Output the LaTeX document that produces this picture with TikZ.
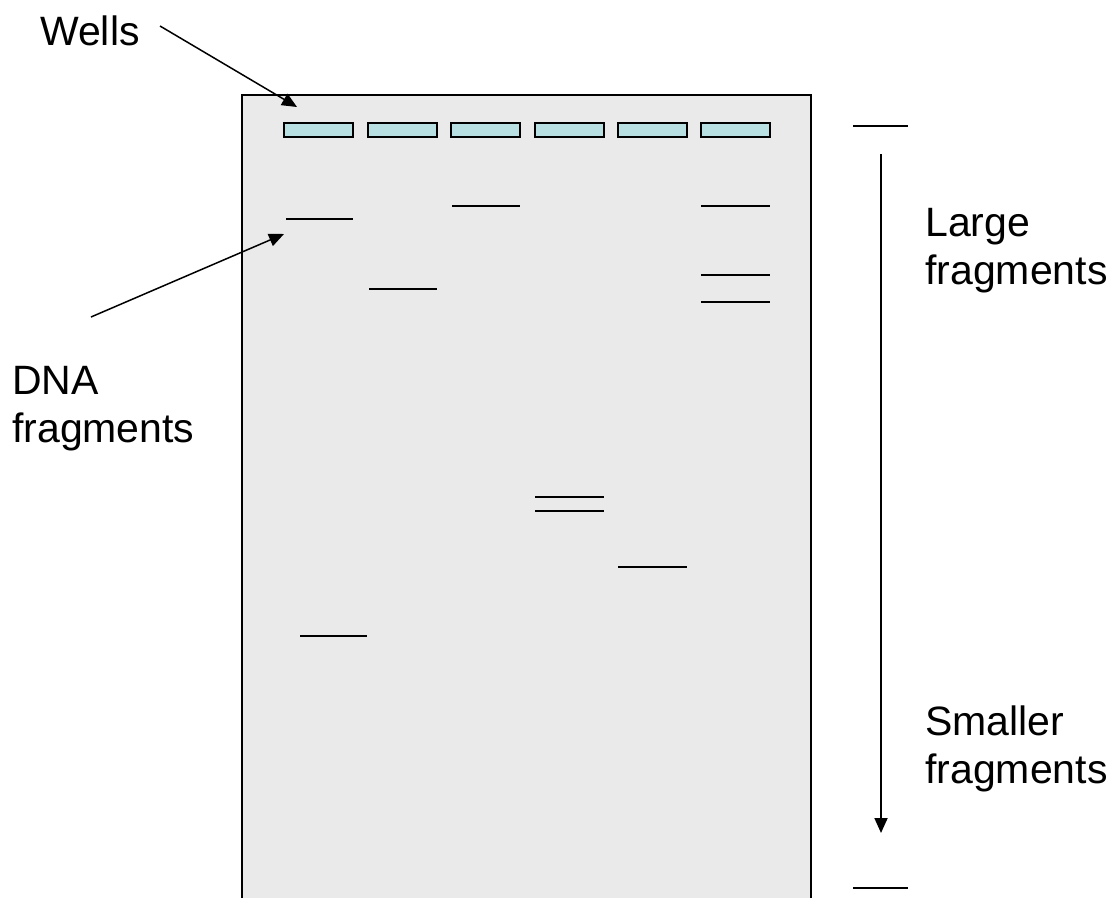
\documentclass[tikz,border=0pt]{standalone}
\usepackage{fontspec}
\setmainfont{Liberation Sans}
\usetikzlibrary{arrows.meta}
\definecolor{gelgray}{HTML}{EAEAEA}
\definecolor{wellcyan}{HTML}{B8E0E3}
\begin{document}
\begin{tikzpicture}[x=1pt,y=-1pt,
  gel/.style={draw=black,line width=1.5pt,fill=gelgray},
  well/.style={draw=black,line width=1.8pt,fill=wellcyan},
  band/.style={draw=black,line width=2pt},
  marker/.style={draw=black,line width=1.8pt},
  pointer/.style={draw=black,line width=1.5pt,-{Triangle[length=15pt,width=13pt]}},
  lbl/.style={font=\fontsize{41}{48}\selectfont,align=left,anchor=north west,inner sep=0pt}]
\useasboundingbox (0,0) rectangle (1110,897);
% gel
\path[gel] (242,95) -- (242,900) -- (811,900) -- (811,95) -- cycle;
% wells
\foreach \x [count=\i] in {284,368,451,535,618,701}{
  \path[well] (\x,123) rectangle ++(69,14);
}
\coordinate (w1) at (297,107);
% bands
\coordinate (b1s) at (286,219); \coordinate (b1e) at (353,219);
\draw[band] (b1s) -- (b1e);
\draw[band] (369,289) -- (437,289);
\draw[band] (452,206) -- (520,206);
\draw[band] (701,206) -- (770,206);
\draw[band] (701,275) -- (770,275);
\draw[band] (701,302) -- (770,302);
\draw[band] (535,497) -- (604,497);
\draw[band] (535,511) -- (604,511);
\draw[band] (618,567) -- (687,567);
\draw[band] (300,636) -- (367,636);
% labels
\node[lbl] (wells) at (40,16) {Wells};
\node[lbl] (dna) at (12,366) {DNA\\fragments};
\node[lbl] (large) at (925,208) {Large\\fragments};
\node[lbl] (small) at (925,706) {Smaller\\fragments};
% pointers
\coordinate (wellsTail) at (160,26);
\coordinate (dnaTail) at (91,317);
\coordinate (dnaTip) at (284,234);
\draw[pointer] (wellsTail) -- (w1);
\draw[pointer] (dnaTail) -- (dnaTip);
% size scale
\coordinate (topL) at (853,126); \coordinate (topR) at (908,126);
\coordinate (botL) at (853,888); \coordinate (botR) at (908,888);
\coordinate (arS) at (881,154); \coordinate (arE) at (881,833);
\draw[marker] (topL) -- (topR);
\draw[marker] (botL) -- (botR);
\draw[pointer,line width=1.8pt] (arS) -- (arE);
\end{tikzpicture}
\end{document}
